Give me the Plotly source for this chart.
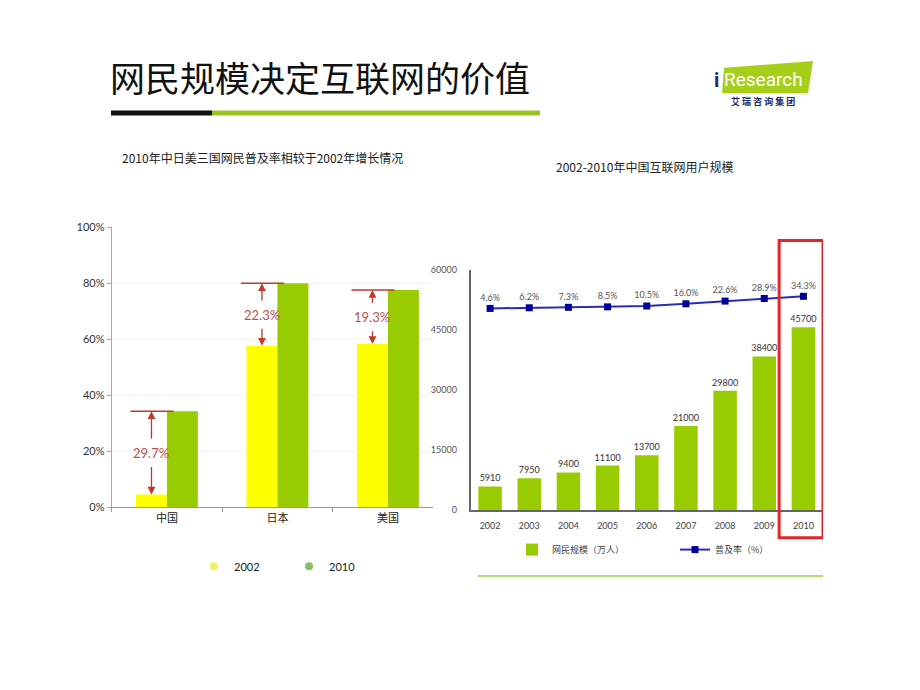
import plotly.graph_objects as go

# ---------------- data ----------------
countries = ["中国", "日本", "美国"]
rate_2002 = [4.6, 57.7, 58.3]
rate_2010 = [34.3, 80.0, 77.6]
growth_labels = ["29.7%", "22.3%", "19.3%"]
left_ticks = [0, 20, 40, 60, 80, 100]

years = ["2002", "2003", "2004", "2005", "2006", "2007", "2008", "2009", "2010"]
users = [5910, 7950, 9400, 11100, 13700, 21000, 29800, 38400, 45700]
penetration = [4.6, 6.2, 7.3, 8.5, 10.5, 16.0, 22.6, 28.9, 34.3]
right_ticks = [0, 15000, 30000, 45000, 60000]

W, H = 920, 690
def px(x):
    return x / W
def py(y):
    return 1 - y / H

YELLOW = "#ffff00"
GREEN = "#99cc00"
RED = "#c0392b"
NUM_FONT = "Lato, Noto Sans CJK SC, sans-serif"
CJK_FONT = "Noto Sans CJK SC, sans-serif"

fig = go.Figure()

# ---------------- left chart ----------------
BW = 0.28
fig.add_trace(go.Bar(x=countries, y=rate_2002, width=BW, offset=-BW, marker_color=YELLOW,
                     marker_line_width=0, showlegend=False, xaxis="x", yaxis="y"))
fig.add_trace(go.Bar(x=countries, y=rate_2010, width=BW, offset=0, marker_color=GREEN,
                     marker_line_width=0, showlegend=False, xaxis="x", yaxis="y"))
# legend proxies (dots)
fig.add_trace(go.Scatter(x=[None], y=[None], mode="markers", name="2002",
                         marker=dict(symbol="circle", size=8, color="#f0f060"),
                         legend="legend", xaxis="x", yaxis="y"))
fig.add_trace(go.Scatter(x=[None], y=[None], mode="markers", name="2010",
                         marker=dict(symbol="circle", size=8, color="#88c060"),
                         legend="legend", xaxis="x", yaxis="y"))

# ---------------- right chart ----------------
fig.add_trace(go.Bar(x=years, y=users, width=0.6, marker_color=GREEN, marker_line_width=0,
                     name="网民规模（万人）", text=[str(v) for v in users],
                     textposition="outside", constraintext="none", cliponaxis=False,
                     textfont=dict(size=9, color="#333", family=NUM_FONT),
                     legend="legend2", xaxis="x2", yaxis="y2"))
fig.add_trace(go.Scatter(x=years, y=penetration, mode="lines+markers+text",
                         name="普及率（%）",
                         text=[f"{v:.1f}%" for v in penetration], textposition="top center",
                         textfont=dict(size=9, color="#555", family=NUM_FONT),
                         line=dict(color="#2b2bb5", width=2),
                         marker=dict(symbol="square", size=7, color="#000099"),
                         cliponaxis=False, legend="legend2", xaxis="x2", yaxis="y3"))

shapes = []
annotations = []

# growth annotations (red line + double arrows + label)
AX = -0.14
for i, (a, b, lab) in enumerate(zip(rate_2002, rate_2010, growth_labels)):
    mid = (a + b) / 2
    shapes.append(dict(type="line", xref="x", yref="y", x0=i - 0.33, x1=i + 0.06,
                       y0=b, y1=b, line=dict(color=RED, width=1.5)))
    annotations.append(dict(xref="x", yref="y", x=i + AX, y=mid, text=lab, showarrow=False,
                            font=dict(size=13, color="#c0504d", family=NUM_FONT)))
    annotations.append(dict(xref="x", yref="y", x=i + AX, y=b, axref="x", ayref="y",
                            ax=i + AX, ay=mid + 4.5, text="", showarrow=True,
                            arrowhead=2, arrowsize=1.2, arrowwidth=1.3, arrowcolor=RED))
    annotations.append(dict(xref="x", yref="y", x=i + AX, y=a, axref="x", ayref="y",
                            ax=i + AX, ay=mid - 4.5, text="", showarrow=True,
                            arrowhead=2, arrowsize=1.2, arrowwidth=1.3, arrowcolor=RED))

# red highlight box around last year
last = len(years) - 1
shapes.append(dict(type="rect", xref="x2", yref="paper", x0=last - 0.62, x1=last + 0.5,
                   y0=py(541), y1=py(238), line=dict(color="#e3262b", width=3)))
# bottom green rule
shapes.append(dict(type="line", xref="paper", yref="paper", x0=px(478), x1=px(823),
                   y0=py(580), y1=py(580), line=dict(color="#b8d870", width=2)))
# title underline
shapes.append(dict(type="line", xref="paper", yref="paper", x0=px(212), x1=px(540),
                   y0=py(108), y1=py(108), line=dict(color="#99c424", width=5)))
shapes.append(dict(type="line", xref="paper", yref="paper", x0=px(111), x1=px(212),
                   y0=py(108), y1=py(108), line=dict(color="#111111", width=5)))
# logo shape
shapes.append(dict(type="path", xref="paper", yref="paper",
                   path=f"M {px(724)},{py(62)} L {px(813)},{py(55)} L {px(808)},{py(88)} L {px(722)},{py(88)} Z",
                   fillcolor="#a6cf1a", line=dict(width=0)))

# titles
annotations.append(dict(xref="paper", yref="paper", x=px(108), y=py(71), xanchor="left",
                        yanchor="middle", text="网民规模决定互联网的价值", showarrow=False,
                        font=dict(size=35, color="#111", family=CJK_FONT)))
annotations.append(dict(xref="paper", yref="paper", x=px(262), y=py(153), xanchor="center",
                        yanchor="middle", text="2010年中日美三国网民普及率相较于2002年增长情况",
                        showarrow=False, font=dict(size=12, color="#222", family=CJK_FONT)))
annotations.append(dict(xref="paper", yref="paper", x=px(644), y=py(163), xanchor="center",
                        yanchor="middle", text="2002-2010年中国互联网用户规模",
                        showarrow=False, font=dict(size=12, color="#222", family=CJK_FONT)))
# logo text
annotations.append(dict(xref="paper", yref="paper", x=px(721), y=py(74), xanchor="right",
                        yanchor="middle", text="<b>i</b>", showarrow=False,
                        font=dict(size=20, color="#1a2a6c", family="Roboto, sans-serif")))
annotations.append(dict(xref="paper", yref="paper", x=px(763), y=py(74), xanchor="center",
                        yanchor="middle", text="Research", showarrow=False,
                        font=dict(size=19, color="#ffffff", family="Roboto, sans-serif")))
annotations.append(dict(xref="paper", yref="paper", x=px(763), y=py(96), xanchor="center",
                        yanchor="middle", text="<b>艾 瑞 咨 询 集 团</b>", showarrow=False,
                        font=dict(size=9, color="#1a2a6c", family=CJK_FONT)))

fig.update_layout(
    width=W, height=H, margin=dict(l=0, r=0, t=0, b=0),
    paper_bgcolor="white", plot_bgcolor="white",
    barmode="overlay",
    font=dict(family=NUM_FONT, color="#333"),
    xaxis=dict(domain=[px(111.7), px(433)], type="category", range=[-0.5, 2.408],
               showline=True, linecolor="#999", linewidth=1, ticks="outside",
               tickson="boundaries", ticklen=4, tickcolor="#999",
               tickfont=dict(size=11, color="#222", family=CJK_FONT), showgrid=False,
               anchor="y", fixedrange=True),
    yaxis=dict(domain=[py(510), py(224.5)], range=[0, 100], tickvals=left_ticks,
               ticktext=[f"{t}%" for t in left_ticks], showline=True, linecolor="#aaa",
               ticks="outside", ticklen=4, tickcolor="#aaa", showgrid=True,
               gridcolor="#f3f3f3", zeroline=False,
               tickfont=dict(size=11, color="#333", family=NUM_FONT), anchor="x"),
    xaxis2=dict(domain=[px(470.5), px(823)], type="category", range=[-0.5, 8.5],
                showline=True, linecolor="#666", linewidth=1.5, ticks="", showgrid=False,
                tickfont=dict(size=9, color="#444", family=NUM_FONT), anchor="y2",
                ticklabelstandoff=6),
    yaxis2=dict(domain=[py(512.7), py(268)], range=[0, 60000], tickvals=right_ticks,
                ticktext=[str(t) for t in right_ticks],
                showline=True, linecolor="#666", linewidth=1.5, ticks="", showgrid=False,
                zeroline=False, tickfont=dict(size=9, color="#555", family=NUM_FONT),
                anchor="x2", ticklabelstandoff=10),
    yaxis3=dict(overlaying="y2", range=[-490, 99], visible=False, anchor="x2"),
    legend=dict(orientation="h", x=px(194), y=py(570), xanchor="left", yanchor="middle",
                bgcolor="rgba(0,0,0,0)", entrywidth=50,
                font=dict(size=11, color="#222", family=NUM_FONT)),
    legend2=dict(orientation="h", x=px(512), y=py(553), xanchor="left", yanchor="middle",
                 bgcolor="rgba(0,0,0,0)", entrywidth=118,
                 font=dict(size=9, color="#444", family=CJK_FONT)),
    shapes=shapes, annotations=annotations,
)

fig.write_html("out.html", config={"displayModeBar": False},
               post_script="document.body.style.margin='0';document.body.style.overflow='hidden';")
